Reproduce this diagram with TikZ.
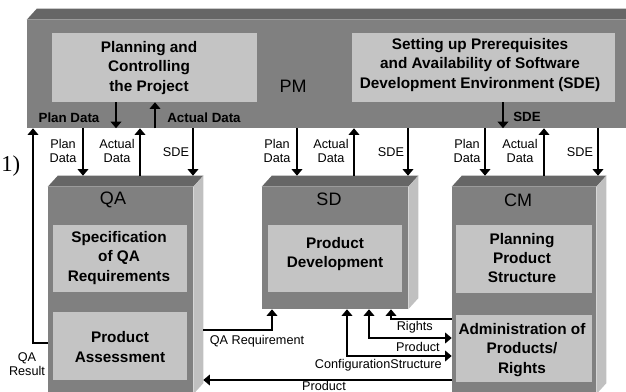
\documentclass[tikz,border=0pt]{standalone}
\usepackage{fontspec}
\setmainfont{Liberation Sans}
\newfontfamily\serifnum{Liberation Serif}
\usetikzlibrary{arrows.meta,calc,fit}
\definecolor{cFront}{HTML}{808080}
\definecolor{cTop}{HTML}{666666}
\definecolor{cSide}{HTML}{C0C0C0}
\definecolor{cInner}{HTML}{C4C4C4}
\tikzset{
  front/.style={fill=cFront,inner sep=0pt},
  inner/.style={fill=cInner,inner sep=0pt},
  task/.style={font=\fontsize{11.5}{14.5}\selectfont\bfseries,align=center,inner sep=0pt},
  unit/.style={font=\fontsize{13.5}{15}\selectfont,inner sep=0pt},
  lbl/.style={font=\fontsize{9.5}{10.5}\selectfont,align=center,inner sep=0pt},
  blbl/.style={font=\fontsize{10}{11}\selectfont\bfseries,inner sep=0pt},
  arr/.style={-{Triangle[length=5pt,width=8pt]},line width=1.5pt},
  darr/.style={{Triangle[length=5pt,width=8pt]}-{Triangle[length=5pt,width=8pt]},line width=1.5pt},
}
% top and side faces of a unit block
\newcommand{\boxfaces}[1]{%
  \fill[cTop] (#1.north west) -- ++(10,-11) -- ($(#1.north east)+(10,-11)$) -- (#1.north east) -- cycle;
  \fill[cSide] (#1.north east) -- ++(10,-11) -- ($(#1.south east)+(10,-11)$) -- (#1.south east) -- cycle;
  \coordinate (#1-back) at ($(#1.north)+(0,-11)$);
  \coordinate (#1-rim) at ($(#1.east)+(10,0)$);
}

\begin{document}
\begin{tikzpicture}[x=0.75pt,y=-0.75pt]
  \useasboundingbox (0,0) rectangle (626,392);
  % units
  \node[front,fit={(27,20)(640,128)}] (pm) {};
  \node[front,fit={(48,187)(193,394)}] (qa) {};
  \node[front,fit={(262,187)(408,309)}] (sd) {};
  \node[front,fit={(452,187)(596,394)}] (cm) {};
  \boxfaces{pm}\boxfaces{qa}\boxfaces{sd}\boxfaces{cm}
  \node[unit] (pmt) at (293,86) {PM};
  \node[unit] (qat) at (113,200) {QA};
  \node[unit] (sdt) at (329,199) {SD};
  \node[unit] (cmt) at (518,200) {CM};

  % tasks
  \node[inner,fit={(52,33)(257,102)}] (plan) {};
  \node[inner,fit={(352,33)(615,102)}] (prep) {};
  \node[inner,fit={(53,225)(187,292)}] (spec) {};
  \node[inner,fit={(53,312)(187,380)}] (assess) {};
  \node[inner,fit={(268,225)(402,292)}] (dev) {};
  \node[inner,fit={(456,225)(592,293)}] (struct) {};
  \node[inner,fit={(456,315)(592,382)}] (admin) {};
  \node[task] (plant) at (149,68) {Planning and\\Controlling\\the Project};
  \node[task] (prept) at (480,65) {Setting up Prerequisites\\and Availability of Software\\Development Environment (SDE)};
  \node[task] (spect) at (119,258) {Specification\\of QA\\Requirements};
  \node[task] (assesst) at (120,347) {Product\\Assessment};
  \node[task] (devt) at (335,254) {Product\\Development};
  \node[task] (structt) at (522,258) {Planning\\Product\\Structure};
  \node[task] (admint) at (522,350) {Administration of\\Products/\\Rights};

  % arrow columns
  \foreach \n/\x in {pd/116,ad/155,se/503,qa1/83,qa2/140,qa3/193,sd1/297,sd2/354,sd3/408,cm1/485,cm2/544,cm3/598}
    \coordinate (x\n) at (\x,0);

  \draw[arr] (plan.south -| xpd) -- (pm.south -| xpd);
  \draw[arr] (pm.south -| xad) -- (plan.south -| xad);
  \draw[arr] (prep.south -| xse) -- (pm.south -| xse);
  \node[blbl] (lpd) at (69,118) {Plan Data};
  \node[blbl] (lad) at (204,118) {Actual Data};
  \node[blbl] (lse) at (527,117) {SDE};

  \foreach \m/\a/\b/\c in {qa/63/117/176,sd/277/331/391,cm/467/520/580}{
    \draw[arr] (pm.south -| x\m1) -- (\m-back -| x\m1);
    \draw[arr] (\m-back -| x\m2) -- (pm.south -| x\m2);
    \draw[arr] (pm.south -| x\m3) -- (\m-back -| x\m3);
    \node[lbl] (\m pl) at (\a,151) {Plan\\Data};
    \node[lbl] (\m al) at (\b,151) {Actual\\Data};
    \node[lbl] (\m sl) at (\c,152) {SDE};
  }

  % flows between units
  \coordinate (kres) at (33,343);
  \coordinate (kreq) at (272,330);
  \coordinate (kprd) at (300,380);
  \coordinate (krt) at (391,319);
  \coordinate (kpr) at (369,338);
  \coordinate (kcs) at (347,356);
  \draw[arr] (qa.west |- kres) -- (kres) -- (pm.south -| kres);
  \draw[arr] (qa-rim |- kreq) -- (kreq) -- (sd.south -| kreq);
  \draw[arr] (cm.west |- kprd) -- (qa-rim |- kprd);
  \draw[arr] (cm.west |- krt) -- (krt) -- (sd.south -| krt);
  \draw[darr] (sd.south -| kpr) -- (kpr) -- (cm.west |- kpr);
  \draw[darr] (sd.south -| kcs) -- (kcs) -- (cm.west |- kcs);
  \node[lbl] (lres) at (27,364) {QA\\Result};
  \node[lbl] (lreq) at (257,341) {QA Requirement};
  \node[lbl] (lprd) at (324,386) {Product};
  \node[lbl,anchor=east] (lrt) at (433,327) {Rights};
  \node[lbl,anchor=east] (lpr) at (440,347) {Product};
  \node[lbl,anchor=east] (lcs) at (442,365) {ConfigurationStructure};

  \node[font=\serifnum\fontsize{17}{17}\selectfont,anchor=west,inner sep=0pt] (note) at (1,166) {1)};
\end{tikzpicture}
\end{document}
